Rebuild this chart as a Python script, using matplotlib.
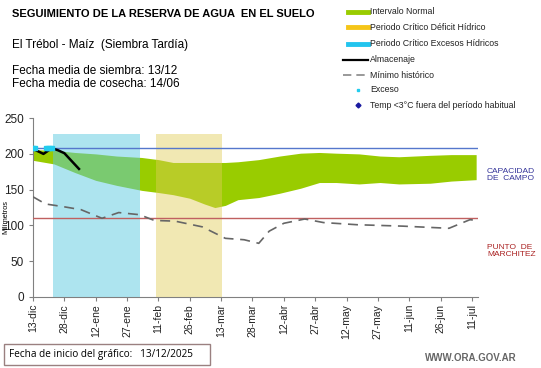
import matplotlib.pyplot as plt
from matplotlib.lines import Line2D
from matplotlib.patches import Rectangle

plt.rcParams['font.family'] = ['Liberation Sans', 'DejaVu Sans']

# days counted from 13/12/2025
tick_days = list(range(0, 211, 15))
tick_labels = ['13-dic', '28-dic', '12-ene', '27-ene', '11-feb', '26-feb', '13-mar',
               '28-mar', '12-abr', '27-abr', '12-may', '27-may', '11-jun', '26-jun', '11-jul']

# intervalo normal (upper / lower edge of the green band)
band_days = [0, 10, 20, 30, 40, 52, 60, 67, 75, 82, 87, 92, 98, 108, 118, 128,
             137, 145, 156, 166, 175, 190, 200, 212]
band_upper = [206, 205, 202, 200, 197, 195, 192, 188, 188, 188, 188, 188, 189, 192,
              197, 201, 202, 201, 200, 197, 196, 198, 199, 199]
band_lower = [191, 186, 174, 163, 156, 149, 146, 143, 138, 130, 125, 128, 136, 139,
              145, 152, 160, 160, 158, 160, 158, 159, 162, 164]

# minimo historico
min_days = [0, 6, 15, 23, 33, 41, 51, 58, 68, 81, 92, 101, 108, 113, 120, 130,
            139, 155, 177, 199, 209, 213]
min_vals = [140, 130, 126, 122, 110, 118, 115, 107, 106, 98, 82, 80, 75, 92, 103, 109,
            104, 101, 99, 96, 108, 107]

# almacenaje
alm_days = [0, 5, 9, 12, 15, 22]
alm_vals = [207, 200, 208, 205, 201, 179]

# exceso
exc_days = [0, 1, 6, 7, 8, 9]
exc_vals = [208, 208, 208, 208, 208, 208]

# critical periods (first day, last day)
excess_period = (10, 51)
deficit_period = (59, 90)
period_top = 228

capacidad_campo = 208
punto_marchitez = 111

fig = plt.figure(figsize=(5.41, 3.68), dpi=100)
ax = fig.add_axes([0.061, 0.193, 0.823, 0.486])

ax.fill_between(band_days, band_lower, band_upper, color='#99CC00', lw=0, zorder=2)

# critical periods, laid over the band so it shows through
ax.fill_between([excess_period[0] - 0.3, excess_period[1] + 0.3], 0, period_top,
                color='#5CCAE0', alpha=0.5, lw=0, zorder=3)
ax.fill_between([deficit_period[0] - 0.3, deficit_period[1] + 0.3], 0, period_top,
                color='#E0CC58', alpha=0.45, lw=0, zorder=3)

ax.axhline(capacidad_campo, color='#5577CC', lw=1, zorder=4)
ax.axhline(punto_marchitez, color='#C06060', lw=1, zorder=4)

ax.plot(min_days, min_vals, color='#666666', lw=1.2, dashes=(6, 4), zorder=5)
ax.plot(alm_days, alm_vals, color='black', lw=1.8, zorder=6)
ax.plot(exc_days, exc_vals, ls='none', marker='s', ms=2.5, color='#22CCEE', zorder=7)

ax.set_xlim(0, 213)
ax.set_ylim(0, 250)
ax.set_xticks(tick_days)
ax.set_xticklabels(tick_labels, rotation=90, fontsize=7.5, color='#222222')
ax.set_yticks(range(0, 251, 50))
ax.tick_params(axis='y', labelsize=8.5, labelcolor='#222222', length=3, color='#808080')
ax.tick_params(axis='x', length=3, color='#808080', pad=2)
for s in ['top', 'right']:
    ax.spines[s].set_visible(False)
for s in ['left', 'bottom']:
    ax.spines[s].set_color('#808080')

fig.text(0.011, 0.41, 'Milímetros', rotation=90, fontsize=5.3, ha='center', va='center')

# header texts
fig.text(0.022, 0.962, 'SEGUIMIENTO DE LA RESERVA DE AGUA  EN EL SUELO', fontsize=8,
         fontweight='bold', va='center')
fig.text(0.022, 0.878, 'El Trébol - Maíz  (Siembra Tardía)', fontsize=8.5, va='center')
fig.text(0.022, 0.807, 'Fecha media de siembra: 13/12', fontsize=8.5, va='center')
fig.text(0.022, 0.771, 'Fecha media de cosecha: 14/06', fontsize=8.5, va='center')

# legend drawn by hand
leg_x0, leg_x1, leg_tx = 348 / 541, 368 / 541, 370 / 541
rows = [12, 27, 44, 60, 75, 90, 105]
labels = ['Intervalo Normal', 'Periodo Crítico Déficit Hídrico',
          'Periodo Crítico Excesos Hídricos', 'Almacenaje', 'Mínimo histórico',
          'Exceso', 'Temp <3°C fuera del período habitual']
for i, (r, lab) in enumerate(zip(rows, labels)):
    y = 1 - r / 368
    if i == 0:
        fig.add_artist(Line2D([leg_x0, leg_x1], [y, y], color='#99CC00', lw=3.5))
    elif i == 1:
        fig.add_artist(Line2D([leg_x0, leg_x1], [y, y], color='#F5C518', lw=3.5))
    elif i == 2:
        fig.add_artist(Line2D([leg_x0, leg_x1], [y, y], color='#22C4EE', lw=3.5))
    elif i == 3:
        fig.add_artist(Line2D([leg_x0 - 0.01, leg_x1], [y, y], color='black', lw=1.6))
    elif i == 4:
        fig.add_artist(Line2D([leg_x0 - 0.01, leg_x1], [y, y], color='#888888', lw=1.2,
                              dashes=(5, 3)))
    elif i == 5:
        fig.add_artist(Line2D([358 / 541], [y], marker='s', ms=2, color='#22CCEE'))
    else:
        fig.add_artist(Line2D([358 / 541], [y], marker='D', ms=2.5, color='#1A1AA0'))
    fig.text(leg_tx, y, lab, fontsize=6.3, va='center', color='#222222')

fig.text(487 / 541, 1 - 175 / 368, 'CAPACIDAD\nDE  CAMPO', fontsize=6, color='#333399',
         va='center', linespacing=1.1)
fig.text(487 / 541, 1 - 251 / 368, 'PUNTO  DE\nMARCHITEZ', fontsize=6, color='#AA2222',
         va='center', linespacing=1.1)

fig.add_artist(Rectangle((4 / 541, 1 - 365 / 368), 206 / 541, 21 / 368, fill=False,
                         edgecolor='#9A8080', lw=1))
fig.text(9 / 541, 1 - 355 / 368, 'Fecha de inicio del gráfico:   13/12/2025', fontsize=7.2,
         va='center', family=['Open Sans', 'DejaVu Sans'])
fig.text(517 / 541, 1 - 358 / 368, 'WWW.ORA.GOV.AR', fontsize=7, color='#666666',
         fontweight='bold', ha='right', va='center')

fig.savefig('out.png', dpi=100)
